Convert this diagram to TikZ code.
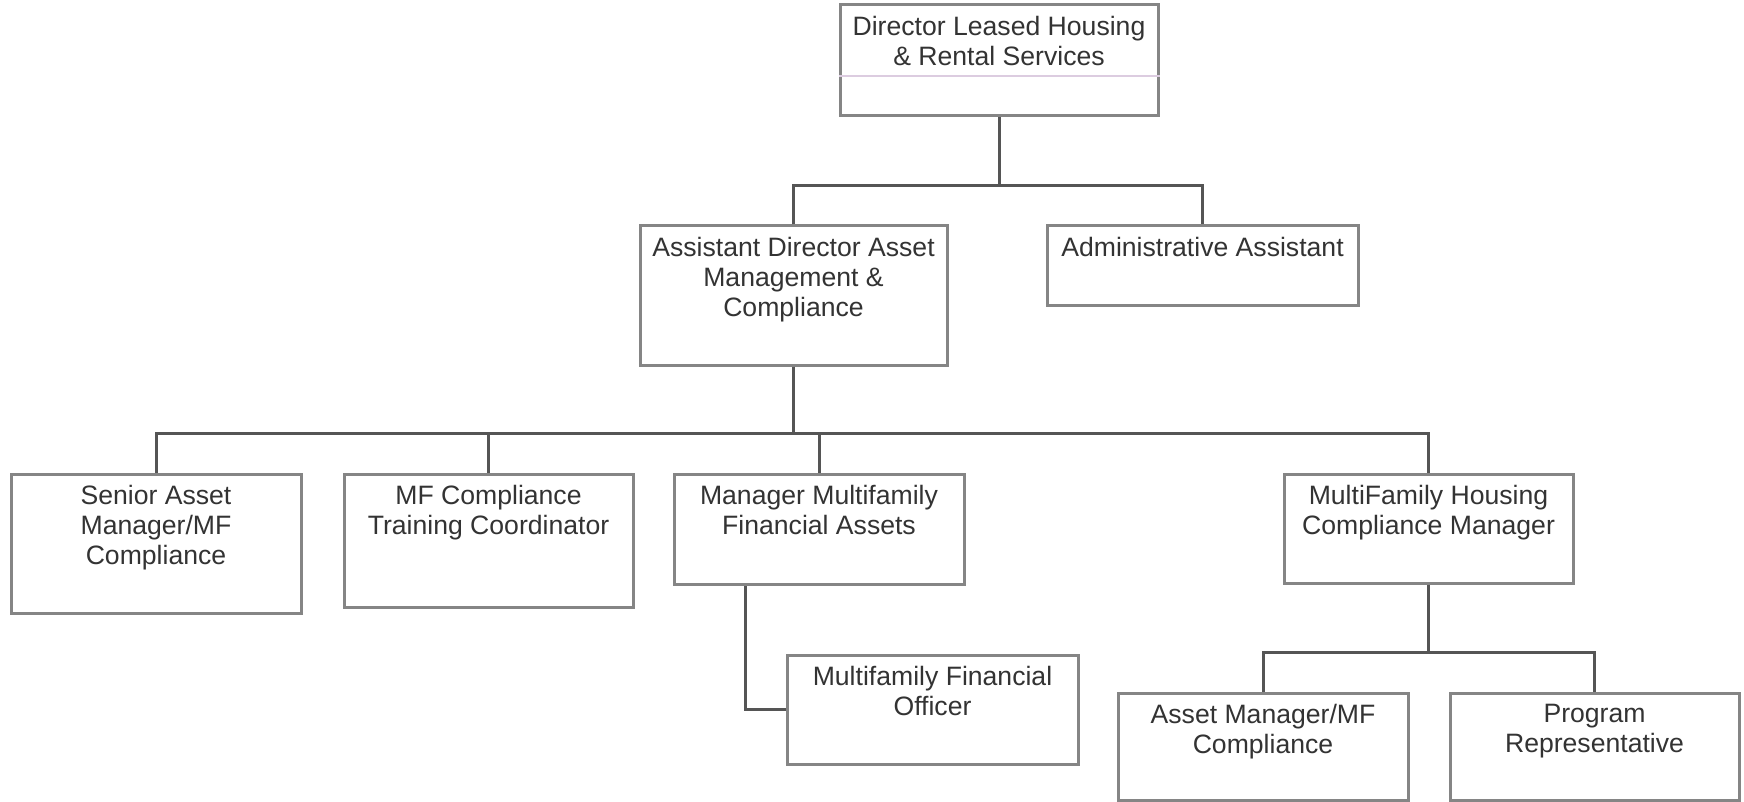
\documentclass[tikz,border=0pt]{standalone}
\usepackage{fontspec}
\setmainfont{Liberation Sans}
\usepackage{tikz}
\definecolor{boxgray}{HTML}{858585}
\definecolor{linkgray}{HTML}{555555}
\definecolor{txtgray}{HTML}{333333}
\definecolor{lilac}{HTML}{DCCCE0}

\begin{document}
\begin{tikzpicture}[x=0.5pt,y=-0.5pt,
                    pos node/.style={rectangle,draw=boxgray,line width=1.5pt,fill=white,inner sep=0pt},
                    title/.style={anchor=north,align=center,inner sep=0pt,yshift=-6pt,text=txtgray,
                                  font=\fontsize{13.3}{15}\selectfont},
                    link/.style={draw=linkgray,line width=1.5pt}]
  \useasboundingbox (0,0) rectangle (1744,802);
  %top%
  \node[pos node,minimum width=159pt,minimum height=55.5pt,
        label={[title]north:Director Leased Housing\\\& Rental Services}] (dir) at (999,60.5) {};
  \draw[lilac,line width=0.6pt] ([yshift=-7.75pt]dir.west) -- ([yshift=-7.75pt]dir.east);
  \node[pos node,minimum width=153.5pt,minimum height=69.5pt,
        label={[title]north:Assistant Director Asset\\Management \&\\Compliance}] (ad) at (793.5,295.5) {};
  \node[pos node,minimum width=155.5pt,minimum height=39.5pt,
        label={[title]north:Administrative Assistant}] (adm) at (1202.5,265.5) {};
  %staff%
  \node[pos node,minimum width=145pt,minimum height=69.5pt,
        label={[title]north:Senior Asset\\Manager/MF\\Compliance}] (sen) at (156,543.5) {};
  \node[pos node,minimum width=144.5pt,minimum height=66.5pt,
        label={[title]north:MF Compliance\\Training Coordinator}] (mfc) at (488.5,540.5) {};
  \node[pos node,minimum width=145pt,minimum height=55pt,
        label={[title]north:Manager Multifamily\\Financial Assets}] (mgr) at (819,529) {};
  \node[pos node,minimum width=144.5pt,minimum height=54.5pt,
        label={[title]north:MultiFamily Housing\\Compliance Manager}] (mfh) at (1428.5,528.5) {};
  \node[pos node,minimum width=145.5pt,minimum height=54.5pt,
        label={[title]north:Multifamily Financial\\Officer}] (fo) at (932.5,709.5) {};
  \node[pos node,minimum width=145pt,minimum height=53.5pt,
        label={[title]north:Asset Manager/MF\\Compliance}] (am) at (1263,746.5) {};
  \node[pos node,minimum width=144.5pt,minimum height=53.5pt,
        label={[title]north:Program\\Representative}] (pr) at (1594.5,746.5) {};

  \coordinate (bus1) at (999,186);
  \coordinate (bus2) at (793.5,433);
  \coordinate (bus3) at (1428.5,652);

  \draw[link] (dir.south) -- (bus1);
  \draw[link] (ad.north) |- (bus1) -| (adm.north);
  \draw[link] (ad.south) -- (bus2);
  \draw[link] (sen.north) |- (bus2) -| (mfh.north);
  \draw[link] (mfc.north) -- (mfc.north |- bus2);
  \draw[link] (mgr.north) -- (mgr.north |- bus2);
  \draw[link] (fo.west) -| ([xshift=36.5pt]mgr.south west);
  \draw[link] (mfh.south) -- (bus3);
  \draw[link] (am.north) |- (bus3) -| (pr.north);
\end{tikzpicture}
\end{document}
